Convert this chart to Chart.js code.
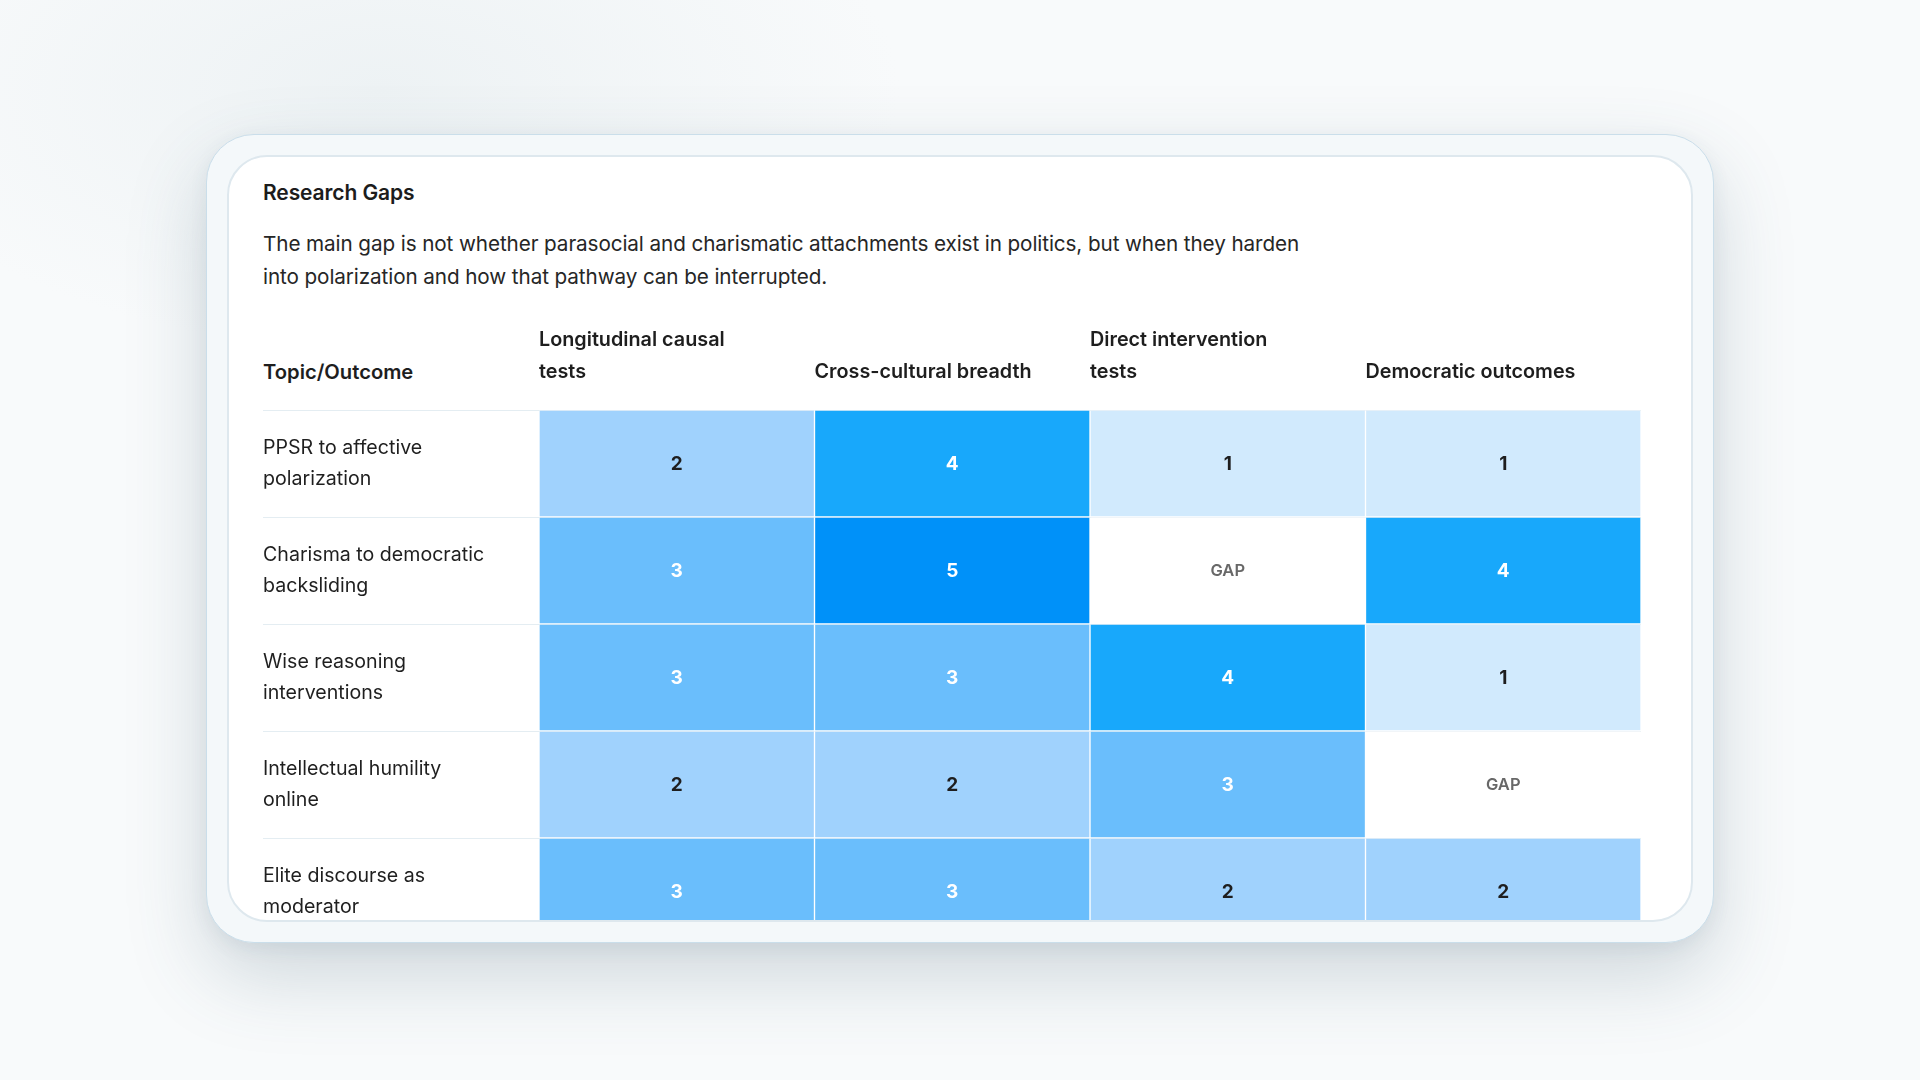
<!DOCTYPE html>
<html>
<head>
<meta charset="utf-8">
<script src="https://cdn.jsdelivr.net/npm/chart.js@4.4.1/dist/chart.umd.min.js"></script>
<style>
  html, body { margin:0; padding:0; }
  body { width:1920px; height:1080px; overflow:hidden; position:relative;
    background: radial-gradient(ellipse 520px 260px at 380px 90px, #edf2f4 0%, rgba(247,250,251,0) 100%), #f8fafb;
    font-family: Inter, "Noto Sans", sans-serif; }
  #outer { position:absolute; left:206px; top:134px; width:1508px; height:809px; box-sizing:border-box;
    border:1.5px solid #cadeea; border-radius:48px; background:#f4f8fa;
    box-shadow: 0 32px 80px rgba(60,90,110,0.22), 0 6px 18px rgba(60,90,110,0.08); }
  #inner { position:absolute; left:227px; top:155px; width:1466px; height:767px; box-sizing:border-box;
    border:2px solid #dee8ee; border-radius:40px; background:#ffffff; overflow:hidden; }
  #title { position:absolute; left:34px; top:22px; font-weight:600; font-size:21px; line-height:28px; color:#1c1c1c; white-space:nowrap; letter-spacing:-0.1px; }
  #sub { position:absolute; left:34px; top:70px; font-size:20.7px; line-height:33px; color:#262626; white-space:nowrap; letter-spacing:-0.1px; }
  #rowhead { position:absolute; left:34px; top:199px; font-weight:600; font-size:20.2px; line-height:32px; color:#1e1e1e; white-space:nowrap; }
  #chart { position:absolute; left:34px; top:158px; }
</style>
</head>
<body>
<div id="outer"></div>
<div id="inner">
  <div id="title">Research Gaps</div>
  <div id="sub">The main gap is not whether parasocial and charismatic attachments exist in politics, but when they harden<br>into polarization and how that pathway can be interrupted.</div>
  <div id="rowhead">Topic/Outcome</div>
  <canvas id="chart" width="1378" height="630"></canvas>
</div>
<script>
// ---- data ----
const rowLabels = [
  ["PPSR to affective", "polarization"],
  ["Charisma to democratic", "backsliding"],
  ["Wise reasoning", "interventions"],
  ["Intellectual humility", "online"],
  ["Elite discourse as", "moderator"]
];
const columnLabels = [
  ["Longitudinal causal", "tests"],
  ["Cross-cultural breadth"],
  ["Direct intervention", "tests"],
  ["Democratic outcomes"]
];
// null = GAP
const longitudinal = [2, 3, 3, 2, 3];
const crossCultural = [4, 5, 3, 2, 3];
const directIntervention = [1, null, 4, 3, 2];
const democraticOutcomes = [1, 4, 1, null, 2];
const gapLabel = "GAP";

const scoreColors = { 1: "#d1eafd", 2: "#a0d2fd", 3: "#6abefc", 4: "#18a8fb", 5: "#0091f9" };
const seriesScores = [longitudinal, crossCultural, directIntervention, democraticOutcomes];

const datasets = seriesScores.map((scores, ci) => ({
  label: columnLabels[ci].join(" "),
  scores: scores,
  data: scores.map(() => 1),
  backgroundColor: scores.map(s => s == null ? "#ffffff" : scoreColors[s]),
  borderColor: "rgba(255,255,255,0.3)",
  borderWidth: 1,
  borderSkipped: false,
  barPercentage: 1,
  categoryPercentage: 1
}));

const cellText = {
  id: "cellText",
  afterDatasetsDraw(chart) {
    const ctx = chart.ctx;
    ctx.save();
    ctx.textAlign = "center";
    ctx.textBaseline = "middle";
    chart.data.datasets.forEach((ds, di) => {
      const meta = chart.getDatasetMeta(di);
      meta.data.forEach((el, i) => {
        const s = ds.scores[i];
        const p = el.getCenterPoint();
        if (s == null) {
          ctx.font = "600 16.5px Inter";
          ctx.fillStyle = "#686868";
          ctx.fillText(gapLabel, p.x, p.y + 1);
        } else {
          ctx.font = "700 19px Inter";
          ctx.fillStyle = s >= 3 ? "#ffffff" : "#1e1e1e";
          ctx.fillText(String(s), p.x, p.y + 1);
        }
      });
    });
    ctx.restore();
  }
};

function zeroPad(scale) {
  scale.paddingLeft = 0; scale.paddingRight = 0; scale.paddingTop = 0; scale.paddingBottom = 0;
}

new Chart(document.getElementById("chart"), {
  type: "bar",
  data: { labels: rowLabels, datasets: datasets },
  options: {
    indexAxis: "y",
    responsive: false,
    animation: false,
    devicePixelRatio: 1,
    layout: { padding: 0 },
    plugins: { legend: { display: false }, tooltip: { enabled: false } },
    scales: {
      x: {
        type: "linear",
        position: "top",
        stacked: true,
        min: 0,
        max: columnLabels.length,
        afterFit(scale) { scale.height = 95; zeroPad(scale); },
        afterBuildTicks(scale) { scale.ticks = columnLabels.map((_, i) => ({ value: i })).concat([{ value: columnLabels.length }]); },
        grid: { display: false, drawTicks: false },
        border: { display: false },
        ticks: {
          align: "start",
          autoSkip: false,
          maxRotation: 0,
          minRotation: 0,
          padding: 22,
          color: "#1e1e1e",
          font: { family: "Inter", size: 19.8, weight: "600", lineHeight: 1.6 },
          callback: (v) => columnLabels[v] || ""
        }
      },
      y: {
        type: "category",
        position: "left",
        stacked: true,
        offset: true,
        afterFit(scale) { scale.width = 276; zeroPad(scale); },
        grid: { offset: true, color: "#e4edf2", lineWidth: 1, drawTicks: true, tickLength: 276 },
        border: { display: false },
        ticks: {
          crossAlign: "far",
          padding: 0,
          color: "#1f1f1f",
          font: { family: "Inter", size: 19.6, weight: "400", lineHeight: 1.57 }
        }
      }
    }
  },
  plugins: [cellText]
});
</script>
</body>
</html>
